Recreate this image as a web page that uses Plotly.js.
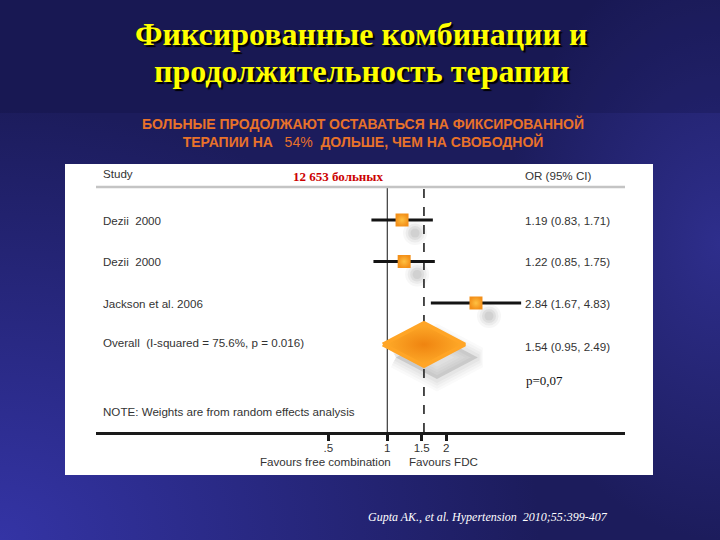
<!DOCTYPE html>
<html><head><meta charset="utf-8">
<script src="https://cdn.plot.ly/plotly-3.0.1.min.js"></script>
<style>
html,body{margin:0;padding:0;width:720px;height:540px;overflow:hidden;}
body{background:
 radial-gradient(ellipse 75% 80% at 0% 100%, rgba(52,52,165,1) 0%, rgba(52,52,165,0) 100%),
 radial-gradient(ellipse 30% 55% at 100% 45%, rgba(46,46,140,1) 0%, rgba(46,46,140,0) 100%),
 #1c1c5c;}
#band{position:absolute;left:0;top:0;width:720px;height:113px;background:rgba(12,12,55,0.22);}
#chart{position:absolute;left:0;top:0;width:720px;height:540px;}
</style></head>
<body><div id="band"></div><div id="chart"></div>
<script>
// ---- data ----
const studies = ['Dezii\u00a0\u00a02000', 'Dezii\u00a0\u00a02000', 'Jackson et al. 2006'];
const oddsRatio = [1.19, 1.22, 2.84];
const ciLow = [0.83, 0.85, 1.67];
const ciHigh = [1.71, 1.75, 4.83];
const overallLabel = 'Overall\u00a0\u00a0(I-squared = 75.6%, p = 0.016)';
const overallOR = [1.54];
const overallLow = [0.95];
const overallHigh = [2.49];
const tickValues = [0.5, 1, 1.5, 2];
const tickLabels = ['.5', '1', '1.5', '2'];

// ---- helpers ----
const W = 720, H = 540;
const px = x => x / W, py = y => 1 - y / H;
const n = studies.length;
const rows = studies.map((s, i) => n + 1 - i); // 4,3,2
const overallRow = 1;
const fmt = (e, l, h) => `${e.toFixed(2)} (${l.toFixed(2)}, ${h.toFixed(2)})`;
const sans = 'Liberation Sans, Arial, sans-serif';
const serif = 'Liberation Serif, Times New Roman, serif';
const txt = '#333333';
const fs = 11.6;

const xr = [-1.488, 1.2146];
const yr = [-1.108, 4.795];
const sx = 13 / 195.7, sy = 13 / 41.5;
const dh = 0.52;

const dX = [overallLow[0], overallOR[0], overallHigh[0], overallOR[0], overallLow[0]];
const dY = [overallRow, overallRow + dh, overallRow, overallRow - dh, overallRow];

const traces = [];
// shadows: drawn on base axes (x,y), whose ranges are shifted, so they sit below-right
[[24, 0.04], [19, 0.06], [14, 0.08], [9, 0.08]].forEach(([s, o]) => {
  traces.push({type: 'scatter', mode: 'markers', x: oddsRatio, y: rows, xaxis: 'x', yaxis: 'y',
    marker: {symbol: 'circle', size: s, color: `rgba(60,60,60,${o})`, line: {width: 0}}, hoverinfo: 'skip'});
});
[[22, 0.025], [17, 0.03], [12, 0.035], [7, 0.04]].forEach(([w, o]) => {
  traces.push({type: 'scatter', mode: 'lines', x: dX, y: dY, xaxis: 'x', yaxis: 'y',
    line: {color: `rgba(60,60,60,${o})`, width: w}, hoverinfo: 'skip'});
});
traces.push({type: 'scatter', mode: 'lines', x: dX, y: dY, xaxis: 'x', yaxis: 'y', fill: 'toself',
  fillcolor: 'rgba(60,60,60,0.16)', line: {width: 0}, hoverinfo: 'skip'});
// diamond (true axes x2,y2)
traces.push({type: 'scatter', mode: 'lines', x: dX, y: dY, xaxis: 'x2', yaxis: 'y2', fill: 'toself',
  fillcolor: '#f7921c',
  fillgradient: {type: 'radial', colorscale: [[0, '#ef8410'], [1, '#ffac2a']]},
  line: {color: '#ffa526', width: 4}, hoverinfo: 'skip'});
// studies
traces.push({type: 'scatter', mode: 'markers', x: oddsRatio, y: rows, xaxis: 'x2', yaxis: 'y2',
  error_x: {type: 'data', symmetric: false,
    array: oddsRatio.map((v, i) => ciHigh[i] - v),
    arrayminus: oddsRatio.map((v, i) => v - ciLow[i]),
    color: '#141414', thickness: 3, width: 0},
  marker: {symbol: 'square', size: 13, color: '#f39019', gradient: {type: 'radial', color: '#ffc142'}, line: {width: 0}},
  hoverinfo: 'skip'});

const annotations = [];
const add = (o) => annotations.push(Object.assign({showarrow: false, xref: 'paper', yref: 'paper'}, o));
const titleFont = {family: serif, size: 32, color: '#ffff00', weight: 'bold', shadow: '2px 2px 1px #000000'};
add({x: px(361), y: py(34), xanchor: 'center', yanchor: 'middle', text: 'Фиксированные комбинации и', font: titleFont});
add({x: px(361), y: py(71), xanchor: 'center', yanchor: 'middle', text: 'продолжительность терапии', font: titleFont});
add({x: px(363), y: py(132), xanchor: 'center', yanchor: 'middle',
  text: '<b>БОЛЬНЫЕ ПРОДОЛЖАЮТ ОСТАВАТЬСЯ НА ФИКСИРОВАННОЙ</b><br><b>ТЕРАПИИ НА</b>\u00a0\u00a0\u00a054%\u00a0\u00a0<b>ДОЛЬШЕ, ЧЕМ НА СВОБОДНОЙ</b>',
  font: {family: sans, size: 14, color: '#e8722a'}});
add({x: px(101), y: py(174), xanchor: 'left', yanchor: 'middle', text: 'Study', font: {family: sans, size: fs, color: txt}});
add({x: px(338), y: py(176), xanchor: 'center', yanchor: 'middle', text: '<b>12 653 больных</b>', font: {family: serif, size: 13, color: '#cc0000'}});
add({x: px(523), y: py(175), xanchor: 'left', yanchor: 'middle', text: 'OR (95% CI)', font: {family: sans, size: fs, color: txt}});
studies.forEach((s, i) => {
  add({x: px(101), yref: 'y2', y: rows[i], xanchor: 'left', yanchor: 'middle', text: s, font: {family: sans, size: fs, color: txt}});
  add({x: px(523), yref: 'y2', y: rows[i], xanchor: 'left', yanchor: 'middle', text: fmt(oddsRatio[i], ciLow[i], ciHigh[i]), font: {family: sans, size: fs, color: txt}});
});
add({x: px(101), yref: 'y2', y: overallRow + 0.05, xanchor: 'left', yanchor: 'middle', text: overallLabel, font: {family: sans, size: fs, color: txt}});
add({x: px(523), yref: 'y2', y: overallRow - 0.05, xanchor: 'left', yanchor: 'middle', text: fmt(overallOR[0], overallLow[0], overallHigh[0]), font: {family: sans, size: fs, color: txt}});
add({x: px(524), y: py(380), xanchor: 'left', yanchor: 'middle', text: 'p=0,07', font: {family: serif, size: 13, color: '#111'}});
add({x: px(101), y: py(411.5), xanchor: 'left', yanchor: 'middle', text: 'NOTE: Weights are from random effects analysis', font: {family: sans, size: fs, color: txt}});
add({x: px(393), y: py(461), xanchor: 'right', yanchor: 'middle', text: 'Favours free combination', font: {family: sans, size: fs, color: txt}});
add({x: px(407), y: py(461), xanchor: 'left', yanchor: 'middle', text: 'Favours FDC', font: {family: sans, size: fs, color: txt}});
add({x: px(366), y: py(517), xanchor: 'left', yanchor: 'middle', text: '<i>Gupta AK., et al. Hypertension  2010;55:399-407</i>', font: {family: serif, size: 12, color: '#ffffff'}});

const yDom = [108 / H, 353 / H];
const xDom = [96 / W, 625 / W];
const shapes = [
  {type: 'rect', xref: 'paper', yref: 'paper', x0: px(65), x1: px(653), y0: py(475), y1: py(164), fillcolor: '#ffffff', line: {width: 0}, layer: 'below'},
  {type: 'line', xref: 'paper', yref: 'paper', x0: px(96), x1: px(625), y0: py(187), y1: py(187), line: {color: '#c4c4c4', width: 2.5}},
  {type: 'line', xref: 'x2', yref: 'paper', x0: 1, x1: 1, y0: yDom[0], y1: yDom[1], line: {color: '#111', width: 1}, layer: 'below'},
  {type: 'line', xref: 'x2', yref: 'paper', x0: overallOR[0], x1: overallOR[0], y0: yDom[0], y1: yDom[1], line: {color: '#111', width: 1.5, dash: 'dash'}, layer: 'below'}
];

const layout = {
  width: W, height: H, margin: {l: 0, r: 0, t: 0, b: 0},
  paper_bgcolor: 'rgba(0,0,0,0)', plot_bgcolor: 'rgba(0,0,0,0)',
  showlegend: false,
  // base axes: shifted copies, carrying only the drop shadows
  xaxis: {type: 'log', domain: xDom, range: [xr[0] - sx, xr[1] - sx], anchor: 'y', visible: false, showgrid: false, zeroline: false},
  yaxis: {domain: yDom, range: [yr[0] + sy, yr[1] + sy], anchor: 'x', visible: false, showgrid: false, zeroline: false},
  // true axes
  xaxis2: {type: 'log', overlaying: 'x', range: xr, anchor: 'y2',
    tickvals: tickValues, ticktext: tickLabels, ticks: 'outside', ticklen: 6, tickwidth: 3, tickcolor: '#1a1a1a',
    ticklabelstandoff: -3,
    showline: true, linewidth: 3, linecolor: '#1a1a1a', showgrid: false, zeroline: false,
    tickfont: {family: sans, size: fs, color: txt}},
  yaxis2: {overlaying: 'y', range: yr, anchor: 'x2', visible: false, showgrid: false, zeroline: false},
  shapes: shapes, annotations: annotations
};
Plotly.newPlot('chart', traces, layout, {staticPlot: true, displayModeBar: false});
</script>
</body></html>
